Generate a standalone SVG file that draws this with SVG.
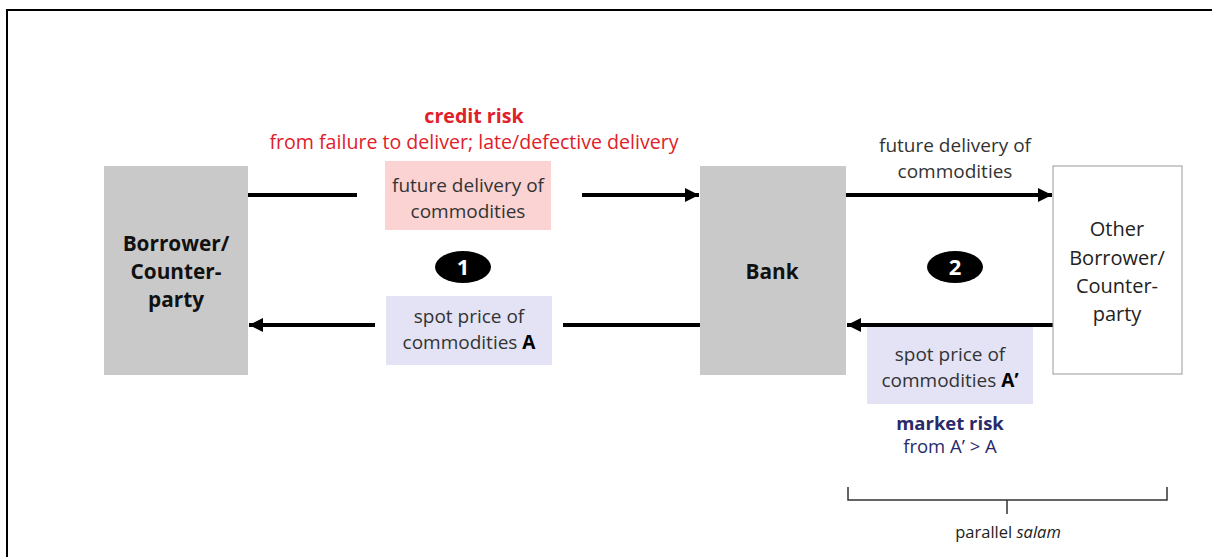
<svg xmlns="http://www.w3.org/2000/svg" width="1212" height="557" viewBox="0 0 1212 557">
<defs>
<style>
text{font-family:"Open Sans","Noto Sans","DejaVu Sans",sans-serif;text-anchor:middle}
.node{fill:#c9c9c9}
.nt{font-size:20.8px;font-weight:bold;fill:#111}
.ot{font-size:20px;fill:#222}
.lbl{font-size:19px;fill:#333}
.red{fill:#e0202a;font-size:19.6px}
.navy{fill:#2a2a6a;font-size:18.5px}
.conn{stroke:#000;stroke-width:4;fill:none}
.badge{fill:#000}
.bt{font-size:22px;font-weight:bold;fill:#fff}
</style>
<marker id="ah" viewBox="0 0 10 10" refX="10" refY="5" markerWidth="4" markerHeight="3.5" orient="auto" markerUnits="strokeWidth">
<path d="M0,0 L10,5 L0,10 z" fill="#000"/>
</marker>
</defs>
<rect width="1212" height="557" fill="#fff"/>
<rect x="7" y="10" width="1220" height="560" fill="none" stroke="#000" stroke-width="2"/>

<g id="connectors">
<line class="conn" x1="248" y1="195" x2="357" y2="195"/>
<line class="conn" x1="582" y1="195" x2="699" y2="195" marker-end="url(#ah)"/>
<line class="conn" x1="375" y1="325" x2="249" y2="325" marker-end="url(#ah)"/>
<line class="conn" x1="700" y1="325" x2="563" y2="325"/>
<line class="conn" x1="846" y1="195" x2="1052" y2="195" marker-end="url(#ah)"/>
<line class="conn" x1="1053" y1="325" x2="847" y2="325" marker-end="url(#ah)"/>
</g>

<g id="borrower">
<rect class="node" x="104" y="166" width="144" height="209"/>
<text class="nt" x="176" y="251">Borrower/</text>
<text class="nt" x="176" y="279">Counter-</text>
<text class="nt" x="176" y="307">party</text>
</g>

<g id="bank">
<rect class="node" x="700" y="166" width="146" height="209"/>
<text class="nt" x="772" y="279" font-size="22px">Bank</text>
</g>

<g id="other">
<rect x="1053" y="166" width="129" height="208" fill="#fff" stroke="#999" stroke-width="1"/>
<text class="ot" x="1117" y="236">Other</text>
<text class="ot" x="1117" y="265">Borrower/</text>
<text class="ot" x="1117" y="293">Counter-</text>
<text class="ot" x="1117" y="321">party</text>
</g>

<g id="credit-risk">
<text class="red" x="474" y="123" font-weight="bold" font-size="19px">credit risk</text>
<text class="red" x="474" y="149">from failure to deliver; late/defective delivery</text>
</g>

<g id="future-delivery-1">
<rect x="385" y="161" width="166" height="69" fill="#fbd3d3"/>
<text class="lbl" x="468" y="192">future delivery of</text>
<text class="lbl" x="468" y="218">commodities</text>
</g>

<g id="spot-price-1">
<rect x="386" y="296" width="166" height="69" fill="#e3e3f5"/>
<text class="lbl" x="469" y="323">spot price of</text>
<text class="lbl" x="469" y="349">commodities <tspan font-weight="bold" fill="#000">A</tspan></text>
</g>

<g id="badge-1">
<ellipse class="badge" cx="463" cy="267" rx="28" ry="16"/>
<text class="bt" x="463" y="275">1</text>
</g>

<g id="future-delivery-2">
<text class="lbl" x="955" y="152">future delivery of</text>
<text class="lbl" x="955" y="178">commodities</text>
</g>

<g id="badge-2">
<ellipse class="badge" cx="955" cy="267" rx="28" ry="16"/>
<text class="bt" x="955" y="275">2</text>
</g>

<g id="spot-price-2">
<rect x="867" y="327" width="166" height="77" fill="#e3e3f5"/>
<text class="lbl" x="950" y="361">spot price of</text>
<text class="lbl" x="950" y="387">commodities <tspan font-weight="bold" fill="#000">A’</tspan></text>
</g>

<g id="market-risk">
<text class="navy" x="950" y="430" font-weight="bold" font-size="17.2px" fill="#23235a">market risk</text>
<text class="navy" x="950" y="453">from A’ &gt; A</text>
</g>

<g id="parallel-salam">
<path d="M848,487 L848,500 L1167,500 L1167,487 M1007,500 L1007,514" fill="none" stroke="#333" stroke-width="1.5"/>
<text x="1008" y="538" font-size="16.5" fill="#222">parallel <tspan font-style="italic">salam</tspan></text>
</g>
</svg>
